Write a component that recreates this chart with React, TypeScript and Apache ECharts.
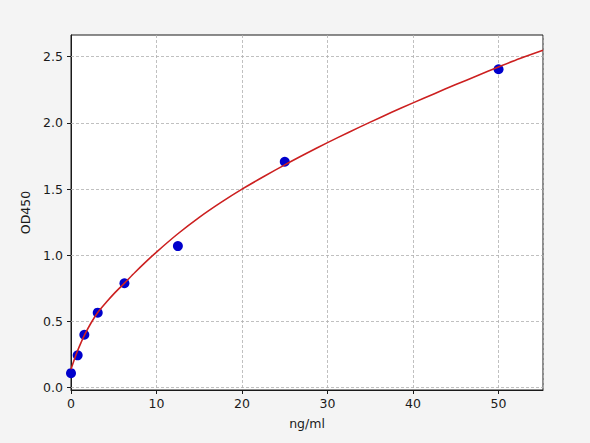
import React, { useEffect, useRef } from "react";
import * as echarts from "echarts";

const concentrations = [0, 0.78, 1.56, 3.125, 6.25, 12.5, 25, 50];
const odValues = [0.11, 0.245, 0.4, 0.567, 0.789, 1.07, 1.707, 2.405];

const curveX = [0, 0.4, 0.78, 1.17, 1.56, 2.34, 3.125, 4.2, 5.2, 6.25, 7.5, 8.75, 10, 12.5, 15, 17.5, 20, 22.5, 25, 27.5, 30, 32.5, 35, 37.5, 40, 42.5, 45, 47.5, 50, 52.5, 55.2];
const curveY = [0.14, 0.216, 0.281, 0.341, 0.396, 0.489, 0.568, 0.651, 0.722, 0.79, 0.8725, 0.9505, 1.025, 1.163, 1.287, 1.398, 1.5, 1.5935, 1.683, 1.7685, 1.851, 1.93, 2.006, 2.08, 2.1515, 2.221, 2.2895, 2.3565, 2.4225, 2.4865, 2.549];

const yTicks = [0, 0.5, 1.0, 1.5, 2.0, 2.5];

const FONT = "DejaVu Sans";

export default function App() {
  const ref = useRef<HTMLDivElement>(null);
  useEffect(() => {
    document.body.style.margin = "0";
    const chart = echarts.init(ref.current!, null, { renderer: "svg" });
    chart.setOption({
      animation: false,
      backgroundColor: "#f4f4f4",
      grid: {
        left: 71,
        right: 47,
        top: 35,
        bottom: 53,
        show: true,
        backgroundColor: "#ffffff",
        borderColor: "#1a1a1a",
        borderWidth: 1,
      },
      xAxis: {
        type: "value",
        min: 0,
        max: 55.2,
        interval: 10,
        name: "ng/ml",
        nameLocation: "middle",
        nameGap: 27,
        nameTextStyle: { fontFamily: FONT, fontSize: 12.5, color: "#1a1a1a" },
        axisLine: { show: true, onZero: false, lineStyle: { color: "#1a1a1a", width: 1 } },
        axisTick: { show: true, length: 4, lineStyle: { color: "#1a1a1a" } },
        axisLabel: {
          fontFamily: FONT,
          fontSize: 12.5,
          color: "#1a1a1a",
          margin: 7,
          showMaxLabel: false,
          formatter: (v: number) => (v > 55 ? "" : String(v)),
        },
        splitLine: { show: true, lineStyle: { color: "#b0b0b0", type: [3, 2], width: 0.8 } },
      },
      yAxis: {
        type: "value",
        min: -0.017,
        max: 2.664,
        name: "OD450",
        nameLocation: "middle",
        nameGap: 33,
        nameTextStyle: { fontFamily: FONT, fontSize: 12.5, color: "#1a1a1a" },
        axisLine: { show: true, onZero: false, lineStyle: { color: "#1a1a1a", width: 1 } },
        axisTick: { show: true, length: 4, lineStyle: { color: "#1a1a1a" }, customValues: yTicks },
        axisLabel: {
          fontFamily: FONT,
          fontSize: 12.5,
          color: "#1a1a1a",
          margin: 8,
          customValues: yTicks,
          formatter: (v: number) => v.toFixed(1),
        },
        splitLine: { show: false },
      },
      series: [
        {
          type: "scatter",
          data: concentrations.map((c, i) => [c, odValues[i]]),
          symbol: "circle",
          symbolSize: 10,
          itemStyle: { color: "#0000cc", opacity: 1 },
          z: 3,
          markLine: {
            silent: true,
            symbol: "none",
            label: { show: false },
            lineStyle: { color: "#b0b0b0", type: [3, 2], width: 0.8 },
            data: yTicks.map((v) => ({ yAxis: v })),
            z: 1,
          },
        },
        {
          type: "line",
          data: curveX.map((x, i) => [x, curveY[i]]),
          smooth: 0.3,
          showSymbol: false,
          symbol: "none",
          lineStyle: { color: "#cc2020", width: 1.6 },
          z: 4,
        },
      ],
    });
    return () => chart.dispose();
  }, []);
  return <div ref={ref} style={{ width: 590, height: 443 }} />;
}
